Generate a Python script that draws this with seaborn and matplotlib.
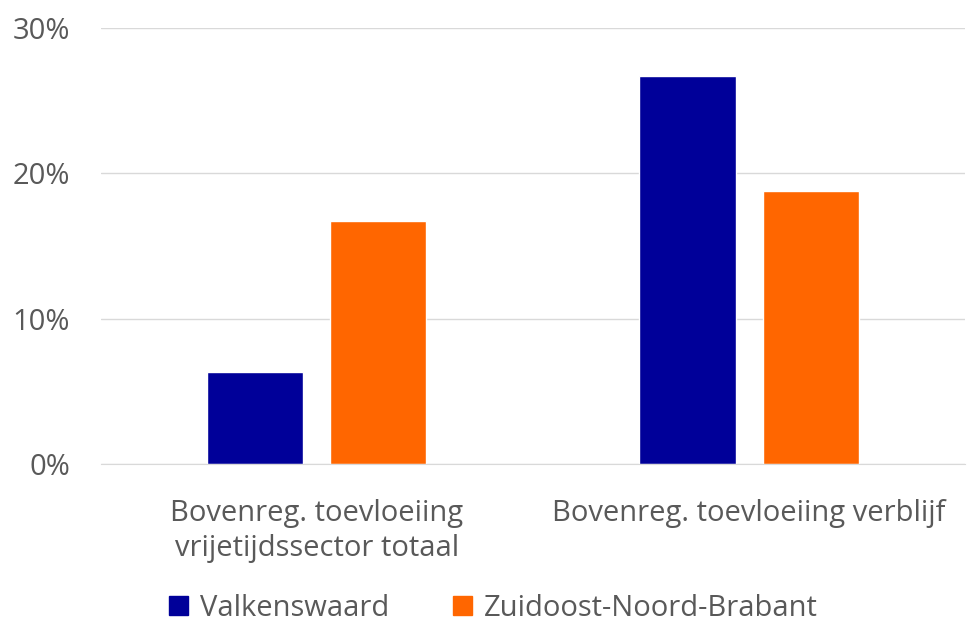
import matplotlib
matplotlib.use("Agg")
import matplotlib.pyplot as plt
import seaborn as sns
import pandas as pd
from matplotlib.ticker import PercentFormatter

categories = ["Bovenreg. toevloeiing\nvrijetijdssector totaal", "Bovenreg. toevloeiing verblijf"]
series = ["Valkenswaard", "Zuidoost-Noord-Brabant"]
valkenswaard = [6.3, 26.7]
znb = [16.7, 18.8]
colors = ["#000099", "#FF6600"]

df = pd.DataFrame({
    "categorie": categories * 2,
    "regio": [series[0]] * 2 + [series[1]] * 2,
    "waarde": valkenswaard + znb,
})

sns.set_style("white")
plt.rcParams["font.family"] = ["Open Sans", "DejaVu Sans"]
txt = "#595959"

fig = plt.figure(figsize=(9.77, 6.39), dpi=100)
ax = fig.add_axes([0.103, 0.274, 0.885, 0.682])

sns.barplot(data=df, x="categorie", y="waarde", hue="regio", palette=colors,
            width=0.57, gap=0.22, ax=ax, saturation=1, legend=False)

ax.set_ylim(0, 30)
ax.set_xlim(-0.5, 1.5)
ax.set_yticks([0, 10, 20, 30])
ax.yaxis.set_major_formatter(PercentFormatter(decimals=0))
ax.grid(axis="y", color="#d9d9d9", linewidth=1)
ax.set_axisbelow(True)
for s in ax.spines.values():
    s.set_visible(False)
ax.spines["bottom"].set_visible(True)
ax.spines["bottom"].set_color("#d9d9d9")
ax.set_xlabel("")
ax.set_ylabel("")
ax.tick_params(axis="both", length=0, labelsize=21, colors=txt)
ax.tick_params(axis="y", pad=22)
ax.tick_params(axis="x", pad=25)
for lbl in ax.get_xticklabels():
    lbl.set_linespacing(1.3)

handles = [plt.Rectangle((0, 0), 1, 1, color=c) for c in colors]
fig.legend(handles, series, loc="center", bbox_to_anchor=(0.505, 0.048), ncol=2,
           frameon=False, fontsize=21, labelcolor=txt, handlelength=0.65,
           handleheight=0.65, handletextpad=0.4, columnspacing=2.2)

fig.savefig("out.png", dpi=100)
